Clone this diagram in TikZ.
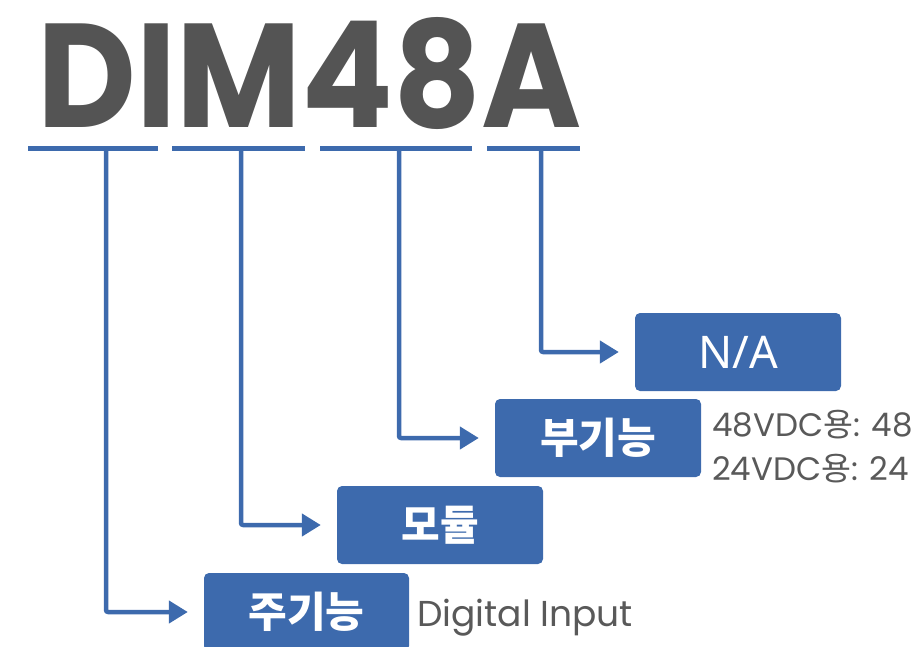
\documentclass[tikz,border=0pt]{standalone}
\usepackage{fontspec}
\setmainfont{Poppins}
\newfontfamily\krfont{Noto Sans CJK KR}
\newfontfamily\nafont{Noto Sans}
\usetikzlibrary{arrows.meta}
\definecolor{bl}{RGB}{61,106,173}
\definecolor{tg}{RGB}{84,84,84}
\definecolor{sg}{RGB}{89,89,89}
\begin{document}
\begin{tikzpicture}[x=1pt,y=-1pt,
  boxstyle/.style={fill=bl, rounded corners=5pt, minimum width=206pt, minimum height=78pt, inner sep=0pt, text=white, font=\krfont\bfseries\fontsize{42}{42}\selectfont},
  uline/.style={draw=bl, line width=5pt},
  conn/.style={draw=bl, line width=4.5pt, line join=round, rounded corners=2pt, shorten >=16pt, -{Triangle[length=19pt,width=22pt]}},
  sidetext/.style={text=sg, inner sep=0pt}]
\useasboundingbox (0,0) rectangle (921,646);
% title
\node[anchor=north west, inner sep=0pt, text=tg] (title) at (37,17) {\resizebox{544pt}{110pt}{\bfseries DIM48A}};
% underline segments
\coordinate (u1a) at (28,148.5); \coordinate (u1b) at (158,148.5);
\coordinate (u2a) at (172,148.5); \coordinate (u2b) at (305,148.5);
\coordinate (u3a) at (320,148.5); \coordinate (u3b) at (472,148.5);
\coordinate (u4a) at (487,148.5); \coordinate (u4b) at (580,148.5);
\draw[uline] (u1a) -- (u1b);
\draw[uline] (u2a) -- (u2b);
\draw[uline] (u3a) -- (u3b);
\draw[uline] (u4a) -- (u4b);
\coordinate (t1) at (106,148.5);
\coordinate (t2) at (241,148.5);
\coordinate (t3) at (399,148.5);
\coordinate (t4) at (541,148.5);
% boxes
\node[boxstyle, font=\nafont\bfseries\fontsize{45}{45}\selectfont] (na) at (738,352) {N/A};
\node[boxstyle] (bu) at (598,438) {부기능};
\node[boxstyle] (mo) at (440,525) {모듈};
\node[boxstyle, minimum width=205pt] (ju) at (306.5,612) {주기능};
% connectors
\draw[conn] (t4) |- (na.west);
\draw[conn] (t3) |- (bu.west);
\draw[conn] (t2) |- (mo.west);
\draw[conn] (t1) |- (ju.west);
% side texts
\node[sidetext, anchor=base west, font=\fontsize{32.5}{32.5}\selectfont] (v48) at (712,436) {48VDC{\krfont 용}: 48};
\node[sidetext, anchor=base west, font=\fontsize{32.5}{32.5}\selectfont] (v24) at (712,480) {24VDC{\krfont 용}: 24};
\node[sidetext, anchor=base west, font=\fontsize{36}{36}\selectfont] (di) at (417,626) {Digital Input};
\end{tikzpicture}
\end{document}
